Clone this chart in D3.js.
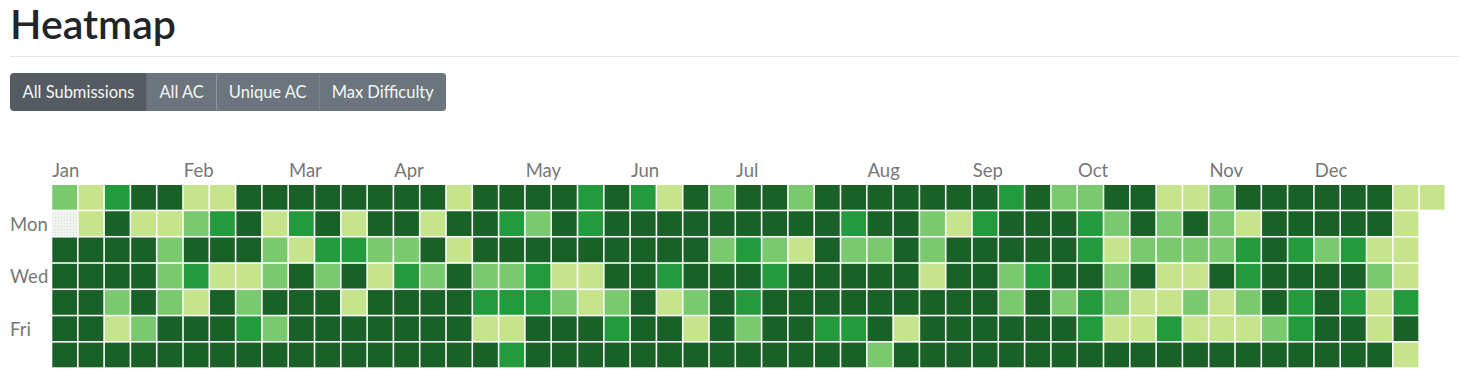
<!DOCTYPE html>
<html>
<head>
<meta charset="utf-8">
<script src="https://cdn.jsdelivr.net/npm/d3@7"></script>
<style>
  html, body { margin: 0; padding: 0; background: #fff; }
  svg { display: block; }
</style>
</head>
<body>
<svg id="chart" width="1464" height="382"></svg>
<script>
// ---- data ----
const year = 2023;
const titleText = "Heatmap";
const buttonLabels = ["All Submissions", "All AC", "Unique AC", "Max Difficulty"];
const activeButton = 0;
const monthNames = ["Jan","Feb","Mar","Apr","May","Jun","Jul","Aug","Sep","Oct","Nov","Dec"];
const dayLabels = [{row: 1, label: "Mon"}, {row: 3, label: "Wed"}, {row: 5, label: "Fri"}];
const levelColors = ["#eef0ee", "#c6e48b", "#7bc96f", "#239a3b", "#196127"];
// one array per week column, Sun..Sat, level 0-4
const weekLevels = [
  [2,0,4,4,4,4,4],
  [1,1,4,4,4,4,4],
  [3,4,4,4,2,1,4],
  [4,1,4,4,4,2,4],
  [4,1,2,2,2,4,4],
  [1,2,4,3,1,4,4],
  [1,3,4,1,4,4,4],
  [4,4,4,1,2,3,4],
  [4,1,2,2,4,2,4],
  [4,3,1,4,4,4,4],
  [4,4,3,2,4,4,4],
  [4,1,3,4,1,4,4],
  [4,4,2,1,4,4,4],
  [4,4,2,3,4,4,4],
  [4,1,4,2,4,4,4],
  [1,4,1,4,4,4,4],
  [4,4,4,2,3,1,4],
  [4,3,4,2,3,1,3],
  [4,2,4,3,3,4,4],
  [4,4,4,1,2,4,4],
  [3,3,4,1,1,4,4],
  [4,4,4,4,2,3,4],
  [3,4,4,4,4,4,4],
  [1,4,4,3,1,4,4],
  [4,4,4,4,2,1,4],
  [2,4,2,4,4,4,4],
  [4,4,3,4,3,2,4],
  [4,4,2,3,4,4,4],
  [2,4,1,4,4,4,4],
  [4,4,4,4,4,3,4],
  [4,3,2,4,4,3,4],
  [4,4,2,4,4,4,2],
  [4,4,4,4,4,1,4],
  [4,2,2,1,4,4,4],
  [4,1,4,4,4,4,4],
  [4,3,4,4,4,4,4],
  [3,4,4,2,2,4,4],
  [4,4,4,3,4,4,4],
  [2,4,4,4,2,4,4],
  [2,3,3,4,3,3,4],
  [4,2,1,2,2,1,4],
  [4,4,2,4,1,1,4],
  [1,2,2,1,1,3,4],
  [1,4,2,1,2,1,4],
  [2,2,2,4,1,1,4],
  [4,1,3,3,2,1,4],
  [4,4,4,4,4,2,4],
  [4,4,3,4,3,3,4],
  [4,4,2,4,4,4,4],
  [4,4,3,4,3,4,4],
  [4,4,1,2,1,1,4],
  [1,1,1,1,3,4,1],
  [1]
];

// ---- build day records from the calendar ----
const start = new Date(year, 0, 1);
const end = new Date(year + 1, 0, 1);
const days = d3.timeDays(start, end).map(d => {
  const col = d3.timeWeek.count(start, d);
  const row = d.getDay();
  return {date: d, col, row, level: weekLevels[col][row]};
});
const nCols = d3.max(days, d => d.col) + 1;

const svg = d3.select("#chart");
const FONT = "Lato, 'Noto Sans', sans-serif";

// pattern for empty cells
const defs = svg.append("defs");
const pat = defs.append("pattern").attr("id", "emptyPat")
  .attr("width", 3).attr("height", 3).attr("patternUnits", "userSpaceOnUse");
pat.append("rect").attr("width", 3).attr("height", 3).attr("fill", "#f1f3f1");
pat.append("rect").attr("x", 1).attr("y", 1).attr("width", 1).attr("height", 1).attr("fill", "#d5dcd5");

// ---- title ----
svg.append("text")
  .attr("x", 10).attr("y", 38.5)
  .attr("font-family", FONT).attr("font-weight", 600)
  .attr("font-size", 40).attr("fill", "#212529")
  .attr("textLength", 166).attr("lengthAdjust", "spacingAndGlyphs")
  .text(titleText);

svg.append("line")
  .attr("x1", 10).attr("x2", 1459).attr("y1", 56.5).attr("y2", 56.5)
  .attr("stroke", "#e3e5e8").attr("stroke-width", 1);

// ---- button group ----
const btnG = svg.append("g");
defs.append("clipPath").attr("id", "btnClip")
  .append("rect").attr("id", "btnClipRect")
  .attr("x", 10).attr("y", 73).attr("height", 38).attr("rx", 4).attr("ry", 4);
const gInner = btnG.append("g").attr("clip-path", "url(#btnClip)");
let bx = 10;
buttonLabels.forEach((lab, i) => {
  const g = gInner.append("g");
  const rect = g.append("rect").attr("y", 73).attr("height", 38)
    .attr("fill", i === activeButton ? "#545b62" : "#6c757d");
  const t = g.append("text").attr("y", 97.5)
    .attr("font-family", FONT).attr("font-size", 16.5).attr("fill", "#f4f5f6")
    .text(lab);
  const w = t.node().getComputedTextLength();
  const bw = w + 25;
  rect.attr("x", bx).attr("width", bw);
  t.attr("x", bx + 12.5);
  bx += bw;
});
d3.select("#btnClipRect").attr("width", bx - 10);

// ---- scales ----
const cellStep = 26.3;
const x = d3.scaleBand()
  .domain(d3.range(nCols))
  .range([51.5, 51.5 + nCols * cellStep])
  .paddingInner(0.06).paddingOuter(0.03);
const y = d3.scaleBand()
  .domain(d3.range(7))
  .range([184.2, 184.2 + 7 * 26.27])
  .paddingInner(0.06).paddingOuter(0.03);
const color = d3.scaleOrdinal().domain(d3.range(5)).range(levelColors);

// ---- cells ----
svg.append("g").selectAll("rect")
  .data(days)
  .join("rect")
  .attr("x", d => x(d.col))
  .attr("y", d => y(d.row))
  .attr("width", x.bandwidth())
  .attr("height", y.bandwidth())
  .attr("fill", d => d.level === 0 ? "url(#emptyPat)" : color(d.level));

// ---- month labels (column of first Sunday in each month) ----
const months = d3.range(12).map(m => {
  const firstSun = d3.timeSunday.ceil(new Date(year, m, 1));
  return {label: monthNames[m], col: d3.timeWeek.count(start, firstSun)};
});
svg.append("g").selectAll("text")
  .data(months)
  .join("text")
  .attr("x", d => x(d.col))
  .attr("y", 176.5)
  .attr("font-family", FONT).attr("font-size", 18.5)
  .attr("fill", "#777777")
  .text(d => d.label);

// ---- day labels ----
svg.append("g").selectAll("text")
  .data(dayLabels)
  .join("text")
  .attr("x", 10)
  .attr("y", d => y(d.row) + y.bandwidth() / 2 + 7)
  .attr("font-family", FONT).attr("font-size", 18.5)
  .attr("fill", "#777777")
  .text(d => d.label);
</script>
</body>
</html>
